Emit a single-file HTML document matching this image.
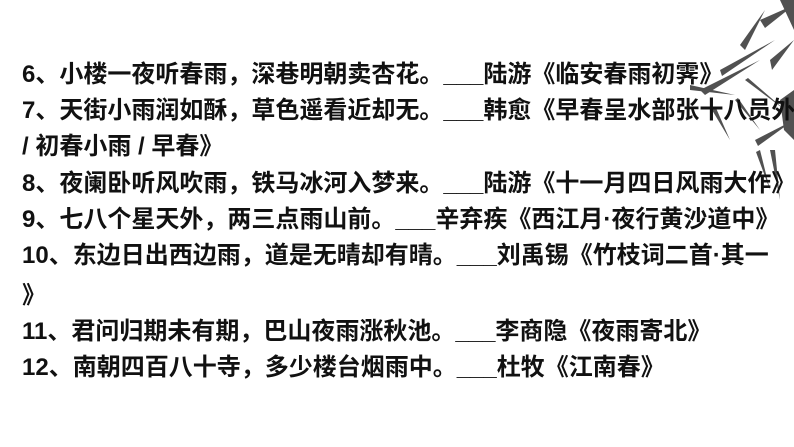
<!DOCTYPE html>
<html><head><meta charset="utf-8"><style>
body{margin:0;width:794px;height:447px;background:#fff;overflow:hidden;position:relative;font-family:"Liberation Sans","Noto Sans CJK SC",sans-serif;}
.l{position:absolute;left:22px;font-size:24px;font-weight:bold;color:#111;white-space:nowrap;line-height:26px;}
svg{position:absolute;left:0;top:0}
</style></head><body>
<svg width="794" height="447">
<g fill="#333" opacity="0.85">
<path d="M700 90 L760 60 L705 95 Z"/>
<path d="M740 45 L765 10 L745 50 Z"/>
<path d="M760 20 L794 5 L765 28 Z"/>
<path d="M720 70 L775 40 L722 76 Z"/>
<path d="M735 100 L760 130 L738 98 Z"/>
<path d="M690 85 L735 95 L690 90 Z"/>
<path d="M745 80 L785 110 L748 78 Z"/>
<path d="M770 60 L794 40 L772 70 Z"/>
<path d="M755 140 L794 120 L758 146 Z"/>
<path d="M775 150 L780 200 L770 150 Z"/>
<path d="M760 150 L770 190 L756 152 Z"/>
<path d="M780 100 L794 90 L794 140 L784 130 Z"/>
<path d="M712 110 L730 140 L716 108 Z"/>
<path d="M780 0 L794 0 L794 30 Z"/>
</g>
</svg>
<div class="l" style="top:62px">6、小楼一夜听春雨，深巷明朝卖杏花。___陆游《临安春雨初霁》</div>
<div class="l" style="top:98px">7、天街小雨润如酥，草色遥看近却无。___韩愈《早春呈水部张十八员外</div>
<div class="l" style="top:134px">/ 初春小雨 / 早春》</div>
<div class="l" style="top:171px">8、夜阑卧听风吹雨，铁马冰河入梦来。___陆游《十一月四日风雨大作》</div>
<div class="l" style="top:207px">9、七八个星天外，两三点雨山前。___辛弃疾《西江月·夜行黄沙道中》</div>
<div class="l" style="top:243px">10、东边日出西边雨，道是无晴却有晴。___刘禹锡《竹枝词二首·其一</div>
<div class="l" style="top:283px">》</div>
<div class="l" style="top:319px">11、君问归期未有期，巴山夜雨涨秋池。___李商隐《夜雨寄北》</div>
<div class="l" style="top:355px">12、南朝四百八十寺，多少楼台烟雨中。___杜牧《江南春》</div>
</body></html>
